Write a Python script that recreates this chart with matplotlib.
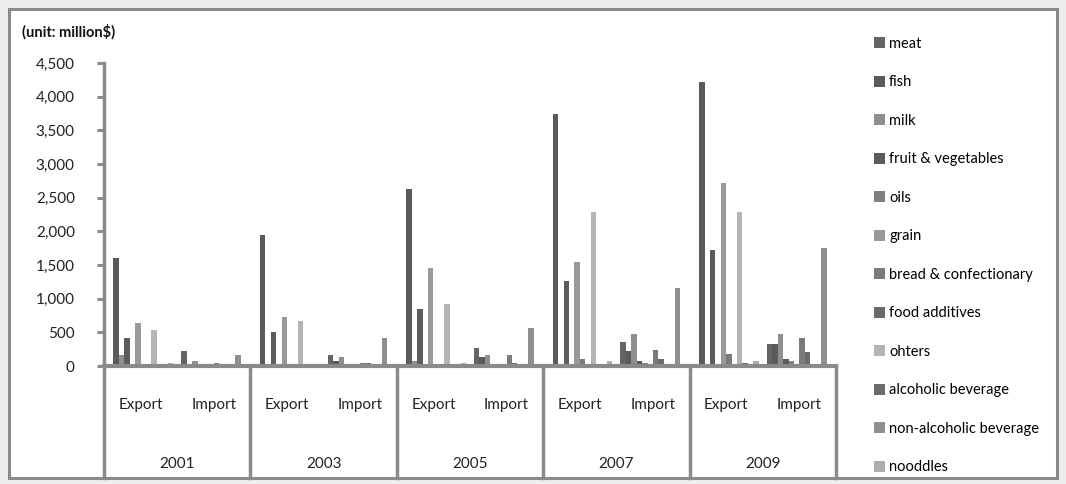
import matplotlib.pyplot as plt
import matplotlib.patches as mpatches
import numpy as np

plt.rcParams['font.family'] = ['Lato', 'DejaVu Sans']

years = ['2001', '2003', '2005', '2007', '2009']
flows = ['Export', 'Import']

series = ['meat', 'fish', 'milk', 'fruit & vegetables', 'oils', 'grain',
          'bread & confectionary', 'food additives', 'ohters',
          'alcoholic beverage', 'non-alcoholic beverage', 'nooddles']

# values per group: 2001 Exp, 2001 Imp, 2003 Exp, 2003 Imp, ... 2009 Imp
meat = [15, 225, 10, 170, 20, 260, 25, 355, 30, 325]
fish = [1600, 15, 1950, 75, 2630, 135, 3740, 230, 4220, 325]
milk = [170, 70, 35, 135, 80, 170, 20, 480, 25, 480]
fruit_veg = [415, 15, 510, 10, 850, 15, 1265, 75, 1730, 110]
oils = [10, 20, 10, 15, 10, 20, 10, 40, 20, 75]
grain = [635, 10, 725, 10, 1455, 10, 1540, 10, 2720, 15]
bread = [10, 40, 10, 40, 15, 170, 110, 235, 175, 420]
additives = [10, 15, 10, 40, 10, 40, 15, 110, 35, 205]
others = [535, 5, 665, 5, 920, 5, 2290, 5, 2290, 5]
alcoholic = [10, 15, 15, 15, 15, 15, 20, 15, 40, 20]
non_alcoholic = [10, 170, 10, 415, 15, 570, 20, 1165, 20, 1750]
noodles = [40, 5, 15, 5, 40, 5, 75, 5, 70, 5]

values = [meat, fish, milk, fruit_veg, oils, grain, bread, additives,
          others, alcoholic, non_alcoholic, noodles]

colors = ['#646464', '#5a5a5a', '#8f8f8f', '#5c5c5c', '#808080', '#999999',
          '#7a7a7a', '#6b6b6b', '#b4b4b4', '#6b6b6b', '#8f8f8f', '#adadad']

W, H = 1066, 484
fig = plt.figure(figsize=(W / 100, H / 100), dpi=100, facecolor='#eeeeee')
fig.patches.append(mpatches.Rectangle((9 / W, 6 / H), 1048 / W, 469 / H,
                                      transform=fig.transFigure,
                                      facecolor='white', edgecolor='#8a8a8a',
                                      linewidth=2.2, zorder=-10))

ax = fig.add_axes([104 / W, 118 / H, 732 / W, 303 / H])
ax.set_facecolor('none')

n_groups = len(years) * len(flows)
bar_w = 1 / 13.5
x = np.arange(n_groups) + 0.5
for i, (name, vals, c) in enumerate(zip(series, values, colors)):
    ax.bar(x + (i - 5.5) * bar_w, vals, width=bar_w, color=c, label=name,
           edgecolor='none', zorder=2)

ax.set_xlim(0, n_groups)
ax.set_ylim(0, 4500)
ax.set_yticks(np.arange(0, 4501, 500))
ax.set_yticklabels([f'{v:,}' for v in range(0, 4501, 500)], fontsize=11,
                   color='#222222')
ax.tick_params(axis='y', length=5, width=2.2, color='#8a8a8a', pad=16)
ax.set_xticks([])
for s in ['top', 'right']:
    ax.spines[s].set_visible(False)
ax.spines['left'].set_color('#8a8a8a')
ax.spines['left'].set_linewidth(2.5)
ax.spines['bottom'].set_color('#8a8a8a')
ax.spines['bottom'].set_linewidth(3)
ax.spines['bottom'].set_zorder(3)

# multi-level category axis
low = -0.37
for k in range(len(years) + 1):
    ax.plot([2 * k, 2 * k], [0, low], transform=ax.get_xaxis_transform(),
            color='#8a8a8a', lw=2.5, clip_on=False)
for g in range(n_groups):
    ax.text(g + 0.5, -0.13, flows[g % 2], transform=ax.get_xaxis_transform(),
            ha='center', va='center', fontsize=11, color='#222222')
for k, yr in enumerate(years):
    ax.text(2 * k + 1, -0.325, yr, transform=ax.get_xaxis_transform(),
            ha='center', va='center', fontsize=11, color='#222222')

fig.text(22 / W, 1 - 32 / H, '(unit: million$)', fontsize=10.5,
         fontweight='bold', va='center', ha='left', color='#111111')

fig.legend(loc='upper left', bbox_to_anchor=(868 / W, 1 - 31 / H),
           frameon=False, fontsize=10.5, handlelength=0.75, handleheight=0.75,
           handletextpad=0.3, labelspacing=1.68, borderaxespad=0)

fig.savefig('out.png', dpi=100, facecolor=fig.get_facecolor())
